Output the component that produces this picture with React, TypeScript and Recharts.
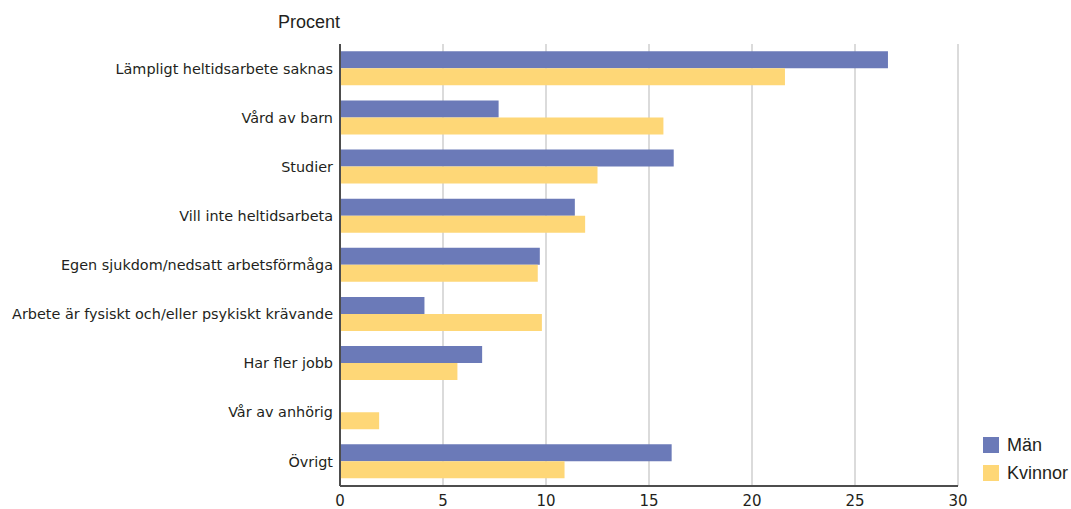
import React from "react";
import { BarChart, Bar, XAxis, YAxis, CartesianGrid } from "recharts";

// Reasons for working part time, share in percent by sex
const categories = [
  "Lämpligt heltidsarbete saknas",
  "Vård av barn",
  "Studier",
  "Vill inte heltidsarbeta",
  "Egen sjukdom/nedsatt arbetsförmåga",
  "Arbete är fysiskt och/eller psykiskt krävande",
  "Har fler jobb",
  "Vår av anhörig",
  "Övrigt",
];
const manValues: (number | null)[] = [26.6, 7.7, 16.2, 11.4, 9.7, 4.1, 6.9, null, 16.1];
const kvinnorValues: (number | null)[] = [21.6, 15.7, 12.5, 11.9, 9.6, 9.8, 5.7, 1.9, 10.9];
const xTicks = [0, 5, 10, 15, 20, 25, 30];

const seriesNames = { man: "Män", kvinnor: "Kvinnor" };
const colors = { man: "#6b7ab8", kvinnor: "#fed777" };

const data = categories.map((c, i) => ({
  category: c,
  man: manValues[i],
  kvinnor: kvinnorValues[i],
}));

const FONT = "'Liberation Sans', Arial, sans-serif";
const LABEL_FONT = "'DejaVu Sans', 'Liberation Sans', sans-serif";
const TEXT = "#231f20";

const legendItems = [
  { key: "man", label: seriesNames.man },
  { key: "kvinnor", label: seriesNames.kvinnor },
];

export default function App() {
  return (
    <div style={{ position: "fixed", left: 0, top: 0, width: 1071, height: 509, background: "#fff" }}>
      <div
        style={{
          position: "absolute",
          left: 278,
          top: 11,
          fontFamily: FONT,
          fontSize: 18,
          color: TEXT,
          lineHeight: "22px",
        }}
      >
        Procent
      </div>
      <BarChart
        width={1071}
        height={509}
        data={data}
        layout="vertical"
        margin={{ top: 44, right: 113, bottom: 0, left: 0 }}
        barCategoryGap="15%"
        barGap={0}
      >
        <CartesianGrid horizontal={false} stroke="#cfcfcf" strokeWidth={1.5} />
        <XAxis
          type="number"
          domain={[0, 30]}
          ticks={xTicks}
          interval={0}
          height={23}
          tickLine={false}
          tickSize={0}
          tickMargin={9}
          axisLine={{ stroke: "#4d4d4d", strokeWidth: 2 }}
          tick={{ fill: TEXT, fontSize: 15, fontFamily: LABEL_FONT }}
        />
        <YAxis
          type="category"
          dataKey="category"
          width={340}
          interval={0}
          tickLine={false}
          tickSize={0}
          tickMargin={7}
          axisLine={{ stroke: "#4d4d4d", strokeWidth: 2 }}
          tick={{ fill: TEXT, fontSize: 14.4, fontFamily: LABEL_FONT }}
        />
        <Bar dataKey="man" name={seriesNames.man} fill={colors.man} isAnimationActive={false} />
        <Bar dataKey="kvinnor" name={seriesNames.kvinnor} fill={colors.kvinnor} isAnimationActive={false} />
      </BarChart>
      <div
        style={{
          position: "absolute",
          left: 983,
          top: 431,
          fontFamily: FONT,
          color: TEXT,
          fontSize: 18,
        }}
      >
        {legendItems.map((it) => (
          <div key={it.key} style={{ display: "flex", alignItems: "center", height: 28 }}>
            <span
              style={{
                display: "inline-block",
                width: 16,
                height: 16,
                background: (colors as any)[it.key],
                marginRight: 8,
              }}
            />
            <span>{it.label}</span>
          </div>
        ))}
      </div>
    </div>
  );
}
